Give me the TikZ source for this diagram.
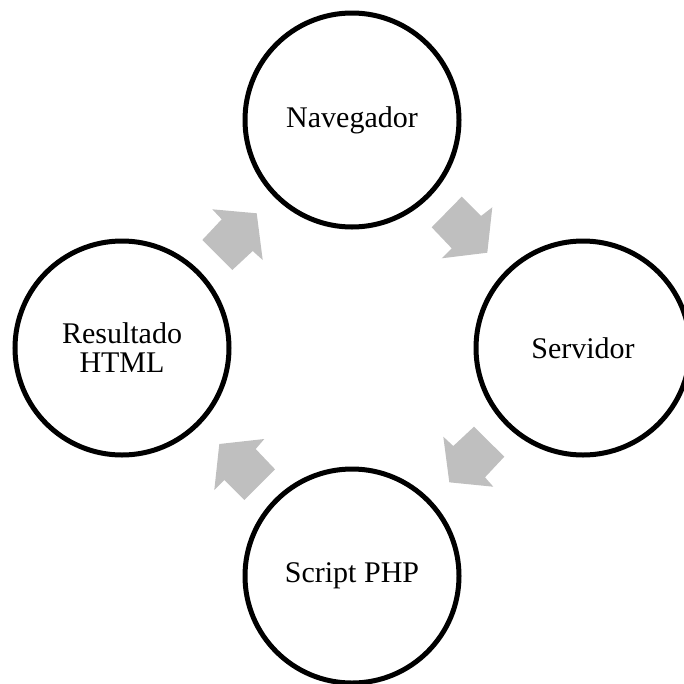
\documentclass[tikz,border=0pt]{standalone}
\usepackage{fontspec}
\setmainfont{Liberation Serif}
\begin{document}
\begin{tikzpicture}[x=1pt,y=-1pt,
  stage/.style={circle,draw=black,line width=5pt,minimum size=214pt,inner sep=0pt,
    align=center,font=\fontsize{30}{29}\selectfont},
  flow/.style={fill=black!25,draw=none}]
\useasboundingbox (0,0) rectangle (684,683);
% the four stages of the request cycle
\node[stage] (nav) at (352,120) {Navegador};
\node[stage] (srv) at (583,348) {Servidor};
\node[stage] (php) at (352,576) {Script PHP};
\node[stage] (res) at (122,348) {Resultado\\HTML};
% block arrows between the stages, drawn in the gaps
\fill[flow] (212.3,209.3) -- (256.7,213.3) -- (262.7,260) -- (252.7,251)
  -- (232.3,270) -- (202.3,240) -- (221.7,219.3) -- cycle;
\fill[flow] (461.7,196.7) -- (481,216) -- (492.3,207.3) -- (487.3,252.7)
  -- (441.7,258.3) -- (451.7,248.3) -- (431.7,227.3) -- cycle;
\fill[flow] (443.3,436.7) -- (453.3,446) -- (474,426.7) -- (504.3,456.7)
  -- (485,477.3) -- (493.3,486.7) -- (449.3,482.3) -- cycle;
\fill[flow] (219.3,444) -- (264.3,439) -- (255.7,449) -- (275,469.3)
  -- (244.3,500) -- (224.3,480) -- (214.3,490) -- cycle;
\end{tikzpicture}
\end{document}
